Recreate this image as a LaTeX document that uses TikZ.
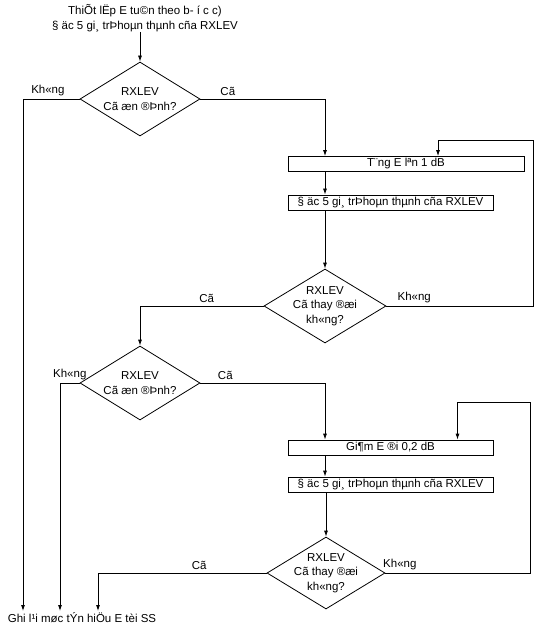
\documentclass[tikz,border=0pt]{standalone}
\usepackage{fontspec}
\setmainfont{Liberation Sans}
\usetikzlibrary{arrows.meta,shapes.geometric}

\begin{document}
\begin{tikzpicture}[x=1pt, y=-1pt, >={Latex[length=6pt,width=4pt]}, line width=0.8pt,
  font=\fontsize{11.5}{14.5}\selectfont,
  box/.style={draw, inner sep=0pt, minimum height=15pt, minimum width=205pt},
  dec/.style={draw, diamond, inner sep=0pt, minimum width=120pt, minimum height=74pt},
  txt/.style={align=center, inner sep=0pt},
  lab/.style={above, inner sep=3pt}]
\useasboundingbox (0,0) rectangle (535,628);
\node[txt] (start) at (145,18) {ThiÕt lËp E tu©n theo b- í c c)\\§ äc 5 gi¸ trÞhoµn thµnh cña RXLEV};
\node[dec, label={[txt]center:RXLEV\\Cã æn ®Þnh?}] (d1) at (140,99) {};
\node[box, minimum width=236pt] (b1) at (406,164) {T¨ng E lªn 1 dB};
\node[box] (b2) at (390.5,202.5) {§ äc 5 gi¸ trÞhoµn thµnh cña RXLEV};
\node[dec, minimum width=122pt, label={[txt]center:RXLEV\\Cã thay ®æi\\kh«ng?}] (d2) at (325,306) {};
\node[dec, label={[txt]center:RXLEV\\Cã æn ®Þnh?}] (d3) at (140,383) {};
\node[box] (b3) at (390.5,447.5) {Gi¶m E ®i 0,2 dB};
\node[box] (b4) at (390.5,484.5) {§ äc 5 gi¸ trÞhoµn thµnh cña RXLEV};
\node[dec, minimum width=118pt, minimum height=72pt, label={[txt]center:RXLEV\\Cã thay ®æi\\kh«ng?}] (d4) at (326,573) {};
\node[txt, anchor=north] (ghi) at (82,612) {Ghi l¹i møc tÝn hiÖu E tèi SS};
\coordinate (k1) at (23,611);
\coordinate (k2) at (60,611);
\coordinate (k3) at (98,611);

\draw[->] (start.south -| d1.north) -- (d1.north);
\draw[->] (d1.west) -| node[lab, pos=0.28]{Kh«ng} (k1);
\draw[->] (d1.east) -| node[lab, pos=0.11]{Cã} (b1.north -| d2.north);
\draw[->] (b1.south -| d2.north) -- (b2.north -| d2.north);
\draw[->] (b2.south -| d2.north) -- (d2.north);
\draw[->] (d2.east) -| node[lab, pos=0.095]{Kh«ng} (533,140) -| ([xshift=32pt]b1.north);
\draw[->] (d2.west) -| node[lab, pos=0.23]{Cã} (d3.north);
\draw[->] (d3.west) -| node[lab, pos=0.25]{Kh«ng} (k2);
\draw[->] (d3.east) -| node[lab, pos=0.1]{Cã} (b3.north -| d2.north);
\draw[->] (b3.south -| d2.north) -- (b4.north -| d2.north);
\draw[->] (b4.south -| d4.north) -- (d4.north);
\draw[->] (d4.east) -| node[lab, pos=0.05]{Kh«ng} (530,402) -| ([xshift=67pt]b3.north);
\draw[->] (d4.west) -| node[lab, pos=0.2]{Cã} (k3);
\end{tikzpicture}
\end{document}
